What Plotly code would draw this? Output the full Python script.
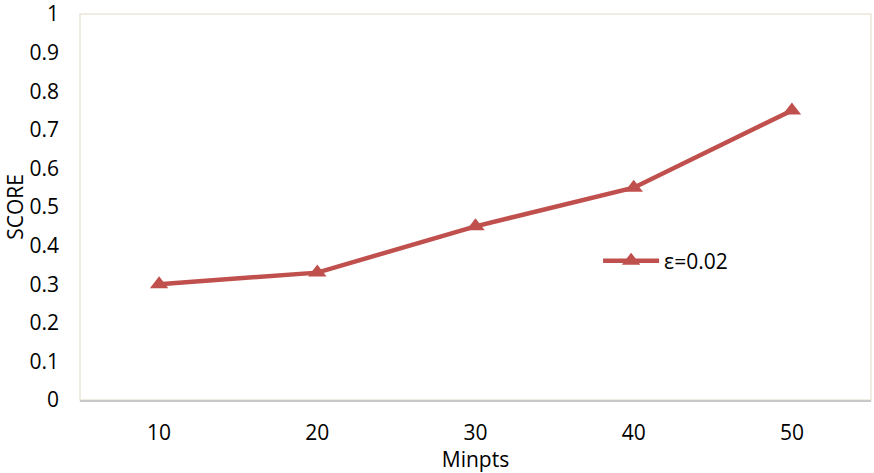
import plotly.graph_objects as go

# Clustering score against the Minpts parameter (eps = 0.02)
minpts = ["10", "20", "30", "40", "50"]
score = [0.30, 0.33, 0.45, 0.55, 0.75]
series_name = "ε=0.02"
y_ticks = [0, 0.1, 0.2, 0.3, 0.4, 0.5, 0.6, 0.7, 0.8, 0.9, 1]
y_labels = ["0", "0.1", "0.2", "0.3", "0.4", "0.5", "0.6", "0.7", "0.8", "0.9", "1"]

red = "#C0504D"
font = "Open Sans, Liberation Sans, sans-serif"

fig = go.Figure()
fig.add_trace(go.Scatter(
    x=minpts, y=score, name=series_name, mode="lines+markers",
    line=dict(color=red, width=4.5),
    marker=dict(symbol="triangle-up", size=16, color=red),
))

# light frame around the plotting area
fig.add_shape(type="rect", xref="paper", yref="paper", x0=0, x1=1, y0=0, y1=1,
              line=dict(color="#EAE6D8", width=1.5), layer="below")

fig.update_layout(
    width=874, height=473,
    margin=dict(l=80, r=3, t=14, b=73),
    paper_bgcolor="white", plot_bgcolor="white",
    font=dict(family=font, size=21, color="#000000"),
    showlegend=True,
    legend=dict(x=0.655, y=0.36, xanchor="left", yanchor="middle",
                itemwidth=56, bgcolor="rgba(0,0,0,0)", font=dict(size=21)),
    xaxis=dict(
        type="category", range=[-0.5, 4.5], automargin=False,
        showgrid=False, zeroline=False,
        showline=True, linecolor="#C8C8C8", linewidth=2,
        ticks="", ticklabelstandoff=13,
        title=dict(text="Minpts", standoff=2, font=dict(size=21)),
    ),
    yaxis=dict(
        range=[0, 1], tickvals=y_ticks, ticktext=y_labels, automargin=False,
        showgrid=False, zeroline=False, showline=False,
        ticks="", ticklabelstandoff=20, ticklabeloverflow="allow",
        title=dict(text="SCORE", standoff=0, font=dict(size=21)),
    ),
)

fig.write_html("out.html")
